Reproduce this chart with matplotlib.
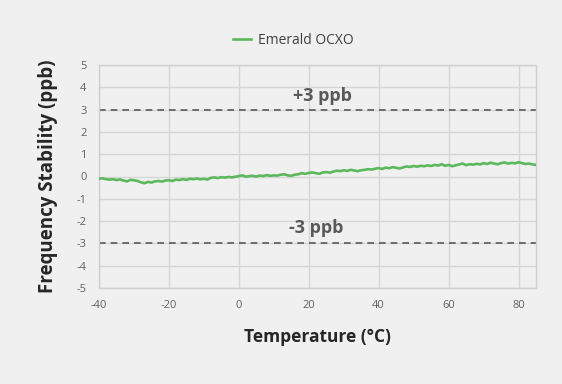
import matplotlib
matplotlib.use("Agg")
import matplotlib.pyplot as plt

temperature = list(range(-40, 86))
stability = [
    -0.10, -0.08, -0.12, -0.14, -0.12, -0.16, -0.13, -0.18, -0.22, -0.15,
    -0.17, -0.20, -0.26, -0.30, -0.24, -0.27, -0.22, -0.20, -0.23, -0.18,
    -0.17, -0.20, -0.14, -0.16, -0.12, -0.15, -0.10, -0.12, -0.09, -0.13,
    -0.10, -0.14, -0.06, -0.04, -0.07, -0.03, -0.05, -0.02, -0.04, -0.01,
    0.02, 0.05, -0.01, 0.02, 0.03, 0.00, 0.04, 0.02, 0.06, 0.03,
    0.05, 0.04, 0.08, 0.10, 0.05, 0.03, 0.08, 0.10, 0.15, 0.12,
    0.16, 0.18, 0.15, 0.12, 0.18, 0.20, 0.17, 0.22, 0.26, 0.24,
    0.28, 0.25, 0.30, 0.27, 0.24, 0.28, 0.30, 0.33, 0.31, 0.35,
    0.38, 0.34, 0.40, 0.37, 0.42, 0.39, 0.36, 0.41, 0.45, 0.43,
    0.47, 0.44, 0.48, 0.46, 0.50, 0.47, 0.52, 0.49, 0.55, 0.48,
    0.52, 0.46, 0.50, 0.54, 0.58, 0.51, 0.55, 0.53, 0.57, 0.54,
    0.60, 0.56, 0.62, 0.58, 0.55, 0.60, 0.63, 0.58, 0.61, 0.59,
    0.64, 0.60, 0.56, 0.58, 0.54, 0.52,
]
series_name = "Emerald OCXO"
limits = [3, -3]
limit_labels = ["+3 ppb", "-3 ppb"]
limit_label_pos = [(24, 3.6), (22, -2.3)]
x_ticks = [-40, -20, 0, 20, 40, 60, 80]
y_ticks = [-5, -4, -3, -2, -1, 0, 1, 2, 3, 4, 5]

plt.rcParams['font.family'] = ['Open Sans', 'DejaVu Sans']
plt.rcParams['axes.unicode_minus'] = False

fig = plt.figure(figsize=(5.62, 3.84), dpi=100)
fig.patch.set_facecolor('#f0f0f0')
ax = fig.add_axes([99/562, 1-288/384, 437/562, 223/384])
ax.set_facecolor('#f0f0f0')

line, = ax.plot(temperature, stability, color='#5bb85d', lw=1.9, label=series_name, zorder=3)

for lim in limits:
    ax.axhline(lim, color='#595959', lw=1.2, ls=(0, (4, 3)), zorder=2)
for txt, (x, y) in zip(limit_labels, limit_label_pos):
    ax.text(x, y, txt, ha='center', va='center', fontsize=13, fontweight='bold', color='#595959')

ax.set_xlim(-40, 85)
ax.set_ylim(-5, 5)
ax.set_xticks(x_ticks)
ax.set_yticks(y_ticks)
ax.grid(True, color='#d6d6d6', lw=1.0, zorder=0)
ax.set_axisbelow(True)
for s in ax.spines.values():
    s.set_color('#d0d0d0')
    s.set_linewidth(1.0)
ax.tick_params(length=0, labelsize=8, colors='#606060', pad=9)

ax.set_xlabel("Temperature (°C)", fontsize=12.5, fontweight='bold', color='#262626', labelpad=12)
ax.set_ylabel("Frequency Stability (ppb)", fontsize=13.5, fontweight='bold', color='#262626', labelpad=13)

leg = fig.legend(handles=[line], loc='center', bbox_to_anchor=(293/562, 1-40/384),
                 frameon=False, fontsize=10, handlelength=1.3, handletextpad=0.5)
for t in leg.get_texts():
    t.set_color('#404040')

fig.savefig('out.png', dpi=100, facecolor=fig.get_facecolor())
